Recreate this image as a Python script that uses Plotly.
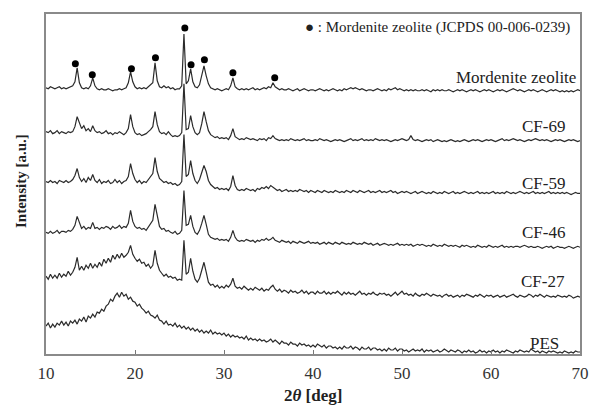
import plotly.graph_objects as go

# scan grid (2-theta, deg) : 10 .. 70 in 0.25 deg steps
two_theta = [10 + 0.25 * i for i in range(241)]

# stacked intensities (a.u., offset already included)
mordenite = [
    267,266,268,267, 266,267,268,266, 267,266,267,268, 269,273,287,272, 267,266,267,266,
    269,277,269,266, 265,266,265,265, 266,265,264,265, 265,266,265,266, 267,272,283,273,
    268,266,267,266, 267,266,268,270, 272,292,274,268, 267,269,267,268, 266,267,265,266,
    266,269,321,271, 274,286,273,268, 267,270,279,289, 279,271,267,266, 265,266,265,264,
    265,266,265,269, 277,268,266,265, 266,265,266,265, 266,267,265,266, 265,266,267,266,
    268,267,272,268, 266,265,266,265, 265,266,265,264, 265,266,264,265, 266,265,264,265,
    265,264,265,266, 265,264,265,264, 265,266,265,264, 265,264,266,265, 266,267,266,267,
    266,265,266,265, 264,265,265,264, 265,266,265,264, 265,264,266,265, 266,267,265,266,
    265,264,265,264, 265,264,265,264, 264,265,264,265, 264,263,265,264, 265,264,265,264,
    264,265,264,263, 264,265,264,265, 264,263,264,265, 264,265,264,263, 264,265,264,265,
    264,263,264,265, 264,265,264,263, 264,265,266,265, 264,265,264,263, 264,265,264,265,
    264,263,264,265, 264,263,264,265, 264,265,264,263, 264,263,264,263, 264,263,264,265,
    264,
]
cf69 = [
    223,222,224,221, 222,224,221,223, 222,221,223,222, 223,228,238,231, 226,229,224,226,
    223,229,224,222, 223,221,222,224, 221,222,220,222, 221,223,221,220, 222,226,240,228,
    222,220,221,219, 220,221,223,225, 228,243,230,223, 221,222,220,223, 220,218,219,218,
    219,222,271,225, 226,239,228,222, 220,222,231,243, 233,224,220,218, 217,218,216,217,
    216,217,215,219, 226,218,216,215, 216,215,217,216, 215,216,215,214, 216,215,216,214,
    217,216,219,216, 215,214,215,214, 215,214,216,215, 214,215,214,215, 216,214,215,214,
    214,215,214,216, 215,214,215,214, 213,214,215,214, 215,214,213,214, 215,216,214,215,
    214,215,216,214, 215,214,215,214, 216,215,214,215, 214,215,214,213, 214,215,214,215,
    216,215,214,215, 219,215,214,215, 214,213,214,215, 214,215,213,214, 215,214,213,214,
    213,214,215,214, 213,214,213,214, 215,214,213,214, 215,214,215,214, 213,214,215,214,
    215,214,213,214, 215,216,214,215, 214,215,216,215, 214,215,214,213, 214,215,214,215,
    216,215,214,215, 214,215,214,213, 214,215,214,215, 214,213,214,215, 214,215,214,213,
    214,
]
cf59 = [
    173,172,174,172, 173,171,174,173, 172,174,172,173, 175,179,186,177, 173,176,172,177,
    174,180,174,172, 175,171,173,172, 174,171,172,175, 172,174,171,173, 174,178,191,181,
    175,172,174,171, 173,172,175,178, 181,197,183,176, 174,172,173,171, 172,170,171,169,
    170,173,220,178, 180,194,181,174, 171,175,182,189, 183,174,170,168, 166,167,165,166,
    165,166,164,168, 179,169,165,164, 165,164,166,165, 164,165,163,166, 165,167,166,168,
    166,169,167,165, 164,165,163,164, 165,163,164,163, 164,163,165,164, 163,164,162,164,
    163,162,164,163, 162,164,163,162, 163,162,164,163, 162,163,162,164, 163,162,164,163,
    162,164,163,162, 163,164,162,163, 162,163,164,162, 163,162,163,164, 162,163,161,162,
    163,162,163,162, 161,162,163,161, 162,163,162,161, 162,161,163,162, 161,162,161,163,
    162,161,162,163, 161,162,161,162, 163,162,161,162, 161,162,163,161, 162,161,162,161,
    162,163,161,162, 161,162,161,163, 162,161,162,161, 162,163,162,161, 162,161,162,163,
    161,162,161,162, 161,162,163,161, 162,161,162,161, 162,161,162,161, 160,161,162,161,
    161,
]
cf46 = [
    122,121,123,121, 122,124,121,123, 123,122,124,123, 125,129,138,131, 126,128,125,127,
    126,132,126,127, 125,127,126,128, 127,125,128,126, 127,129,126,128, 127,131,144,133,
    128,126,127,125, 126,124,127,130, 134,150,137,128, 125,126,123,124, 122,121,123,120,
    121,124,164,129, 130,139,128,122, 120,124,131,139, 130,120,117,116, 115,116,114,115,
    114,115,113,117, 124,117,114,113, 114,113,115,114, 113,114,112,114, 113,115,114,116,
    114,115,117,114, 113,112,114,113, 112,113,111,113, 112,111,113,112, 111,112,113,111,
    112,111,112,110, 111,112,110,112, 111,110,112,111, 110,112,111,110, 111,110,112,111,
    110,111,110,112, 111,110,111,109, 110,111,109,110, 111,110,109,110, 109,110,111,109,
    110,109,110,109, 110,108,109,110, 109,110,109,108, 109,108,110,109, 108,109,108,110,
    109,108,109,108, 109,108,107,109, 108,109,108,107, 108,107,109,108, 107,108,107,109,
    108,107,108,107, 108,109,107,108, 107,108,107,108, 108,107,108,109, 108,107,108,107,
    107,108,107,106, 107,108,107,108, 106,107,108,107, 107,106,107,108, 107,106,107,108,
    107,
]
cf27 = [
    78,75,80,76, 79,76,81,77, 80,78,83,79, 82,87,97,84, 88,84,89,86,
    91,86,90,87, 92,88,95,91, 96,92,99,95, 100,96,101,97, 99,102,109,100,
    96,93,95,91, 92,88,90,86, 89,104,91,84, 81,78,80,77, 78,76,77,74,
    75,74,114,80, 82,96,83,75, 72,76,84,92, 82,72,69,70, 67,69,66,68,
    66,69,67,70, 76,68,66,67, 65,68,66,64, 66,64,67,65, 64,66,63,65,
    64,67,69,65, 63,65,62,64, 63,61,64,62, 63,61,62,64, 61,63,60,62,
    62,60,63,61, 61,63,60,62, 60,62,61,63, 61,59,62,60, 62,60,61,59,
    61,63,60,61, 59,61,60,62, 60,59,61,60, 61,59,60,58, 60,62,59,61,
    63,60,61,59, 60,58,61,59, 58,60,59,61, 59,58,60,59, 58,59,57,59,
    60,58,59,57, 58,59,57,59, 58,60,59,58, 57,59,58,60, 58,57,59,58,
    59,57,58,59, 57,58,59,57, 58,59,60,58, 57,59,58,57, 58,60,59,57,
    59,58,60,58, 57,59,58,57, 58,57,59,58, 57,58,57,59, 58,56,57,58,
    57,
]
pes = [
    28,31,26,30, 27,31,29,33, 29,32,28,33, 31,34,30,35, 33,37,32,38,
    36,40,37,42, 41,45,43,48, 50,55,53,58, 61,57,62,58, 60,55,57,53,
    52,48,50,46, 44,41,43,39, 38,36,39,34, 33,30,33,29, 30,28,31,27,
    29,26,28,25, 27,24,26,23, 25,22,24,21, 23,21,24,20, 22,20,21,19,
    21,18,20,17, 19,17,18,16, 17,15,18,14, 16,14,15,13, 15,13,14,12,
    13,15,12,14, 12,10,13,11, 11,9,12,10, 10,8,11,9, 10,8,9,7,
    9,7,10,8, 7,9,6,8, 8,6,7,5, 7,5,8,6, 6,8,5,7,
    6,4,7,5, 5,7,4,6, 6,4,5,3, 5,3,6,4, 4,6,3,5,
    5,3,4,2, 4,5,3,4, 3,5,2,4, 3,4,2,3, 4,2,3,5,
    3,2,4,3, 2,4,3,1, 3,2,4,2, 3,1,2,4, 2,3,1,3,
    2,4,2,3, 1,3,2,4, 3,2,1,3, 2,4,3,2, 3,2,5,3,
    2,3,1,3, 2,1,3,2, 3,2,1,2, 1,3,2,1, 2,1,3,2,
    2,
]

series_names = ["Mordenite zeolite", "CF-69", "CF-59", "CF-46", "CF-27", "PES"]
series_values = [mordenite, cf69, cf59, cf46, cf27, pes]
label_x = [69.8, 68.5, 68.5, 68.5, 68.5, 67.9]
label_y = [277, 228, 171, 122, 73, 11]

# Mordenite reflection markers (JCPDS 00-006-0239)
peak_theta = [13.3, 15.2, 19.6, 22.3, 25.6, 26.3, 27.8, 31.0, 35.7]
peak_mark_y = [291, 280, 286, 297, 327, 290, 295, 282, 277]

x_ticks = [10, 20, 30, 40, 50, 60, 70]

for s in series_values:
    assert len(s) == len(two_theta), len(s)

SERIF = "Liberation Serif, Times New Roman, serif"
fig = go.Figure()
for name, vals in zip(series_names, series_values):
    fig.add_trace(go.Scatter(x=two_theta, y=vals, mode="lines", name=name,
                             line=dict(color="#2b2b2b", width=1.2), showlegend=False))

fig.add_trace(go.Scatter(x=peak_theta, y=peak_mark_y, mode="markers",
                         marker=dict(color="black", size=7), showlegend=False))

annotations = []
for name, lx, ly in zip(series_names, label_x, label_y):
    annotations.append(dict(x=lx, y=ly, xref="x", yref="y", text=name, showarrow=False,
                            xanchor="right", yanchor="middle",
                            font=dict(family=SERIF, size=17, color="#222")))
annotations.append(dict(x=38.9, y=327, xref="x", yref="y",
                        text="● : Mordenite zeolite (JCPDS 00-006-0239)", showarrow=False,
                        xanchor="left", yanchor="middle",
                        font=dict(family=SERIF, size=15, color="#222")))
annotations.append(dict(x=0.5, y=-0.122, xref="paper", yref="paper",
                        text="<b>2<i>θ</i> [deg]</b>", showarrow=False,
                        xanchor="center", yanchor="middle",
                        font=dict(family=SERIF, size=17, color="#222")))
annotations.append(dict(x=-0.048, y=0.51, xref="paper", yref="paper",
                        text="<b>Intensity [a.u.]</b>", showarrow=False, textangle=-90,
                        xanchor="center", yanchor="middle",
                        font=dict(family=SERIF, size=15, color="#222")))

fig.update_layout(
    width=601, height=406,
    margin=dict(l=46, r=14, t=13, b=52),
    paper_bgcolor="white", plot_bgcolor="white",
    annotations=annotations,
    showlegend=False,
)
fig.update_xaxes(range=[10, 70], tickvals=x_ticks, ticks="inside", ticklen=4,
                 tickcolor="#777", showgrid=False, zeroline=False,
                 showline=True, linecolor="#8a8a8a", linewidth=1.5, mirror=True,
                 ticklabelstandoff=3,
                 tickfont=dict(family=SERIF, size=17, color="#333"))
fig.update_yaxes(range=[0, 341], showticklabels=False, ticks="", showgrid=False,
                 zeroline=False, showline=True, linecolor="#8a8a8a", linewidth=1.5,
                 mirror=True)

fig.write_html("out.html", config={"displayModeBar": False},
               post_script="document.body.style.margin='0';document.body.style.padding='0';")
